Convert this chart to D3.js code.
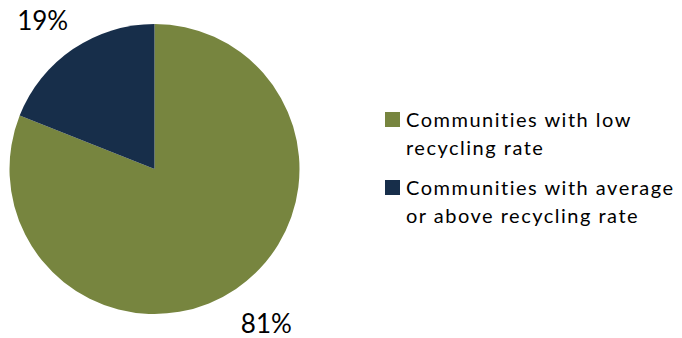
<!DOCTYPE html>
<html><head><meta charset="utf-8">
<script src="https://cdn.jsdelivr.net/npm/d3@7"></script>
<style>body{margin:0;background:#fff}svg{display:block}</style>
</head><body>
<script>
const categories = ["Communities with low recycling rate", "Communities with average or above recycling rate"];
const legendLines = [["Communities with low", "recycling rate"], ["Communities with average", "or above recycling rate"]];
const values = [81, 19];
const labels = ["81%", "19%"];
const colors = ["#77853F", "#172E4A"];

const W = 682, H = 338;
const svg = d3.select("body").append("svg").attr("width", W).attr("height", H);
const cx = 154.5, cy = 169, r = 145;
const pie = d3.pie().sort(null).value(d => d)(values);
const arc = d3.arc().innerRadius(0).outerRadius(r);
const g = svg.append("g").attr("transform", `translate(${cx},${cy})`);
g.selectAll("path").data(pie).join("path").attr("d", arc).attr("fill", (d, i) => colors[i]);
const labelR = 188, fs = 26;
g.selectAll("text").data(pie).join("text")
  .attr("x", d => labelR * Math.sin((d.startAngle + d.endAngle) / 2 - 0.04))
  .attr("y", d => -labelR * Math.cos((d.startAngle + d.endAngle) / 2 - 0.04) + fs * 0.36 + 3)
  .attr("text-anchor", "middle")
  .attr("font-family", "Lato, 'Open Sans', sans-serif").attr("font-size", fs)
  .attr("fill", "#000").text((d, i) => labels[i]);

const leg = svg.append("g").attr("transform", "translate(385,0)");
const items = leg.selectAll("g").data(categories).join("g")
  .attr("transform", (d, i) => `translate(0,${112 + i * 68})`);
items.append("rect").attr("width", 15).attr("height", 15).attr("fill", (d, i) => colors[i]);
items.each(function(d, i) {
  const t = d3.select(this).append("text")
    .attr("font-family", "Lato, 'Open Sans', sans-serif").attr("font-size", 20)
    .attr("letter-spacing", 1.5)
    .attr("fill", "#000");
  legendLines[i].forEach((ln, j) => {
    t.append("tspan").attr("x", 21).attr("y", 15 + j * 28).text(ln);
  });
});
</script>
</body></html>
